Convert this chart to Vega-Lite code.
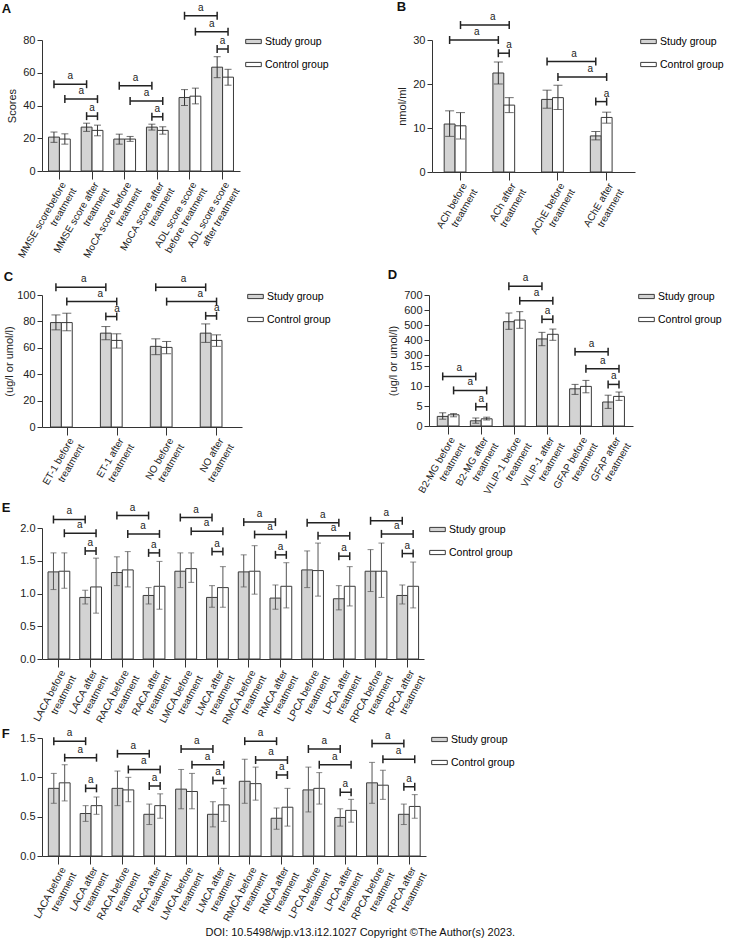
{
  "$schema": "https://vega.github.io/schema/vega-lite/v6.json",
  "padding": {"top": 1, "left": 1, "right": 14, "bottom": 0},
  "background": "white",
  "title": {"text": "DOI: 10.5498/wjp.v13.i12.1027 Copyright ©The Author(s) 2023.", "orient": "bottom", "anchor": "middle", "fontSize": 11, "fontWeight": "normal", "offset": -2, "color": "#111"},
  "config": {
    "font": "Liberation Sans",
    "view": {"stroke": null},
    "axis": {"grid": false, "domainColor": "#333", "tickColor": "#333", "labelColor": "#222", "titleColor": "#222", "labelFontSize": 11, "titleFontSize": 11, "titleFontWeight": "normal"},
    "axisY": {"tickSize": 5, "labelPadding": 2, "titlePadding": 5, "labelOverlap": false, "tickCount": 10},
    "legend": {"orient": "right", "offset": 12, "symbolType": "M-1.3,-0.35H1.3V0.35H-1.3Z", "symbolSize": 144, "symbolStrokeWidth": 1, "labelFontSize": 10.5, "rowPadding": 11, "labelOffset": 5, "padding": -5},
    "title": {"fontSize": 13, "fontWeight": "bold", "anchor": "start", "frame": "bounds", "color": "#111"},
    "concat": {"spacing": 3}
  },
  "datasets": {
    "bA": [
      {"c": "MMSE scorebefore|treatment", "g": "Study group", "v": 20.7, "lo": 17.5, "hi": 23.8},
      {"c": "MMSE scorebefore|treatment", "g": "Control group", "v": 19.5, "lo": 16.4, "hi": 22.7},
      {"c": "MMSE score after|treatment", "g": "Study group", "v": 26.8, "lo": 24.2, "hi": 29.2},
      {"c": "MMSE score after|treatment", "g": "Control group", "v": 24.8, "lo": 21.5, "hi": 28.0},
      {"c": "MoCA score before|treatment", "g": "Study group", "v": 19.5, "lo": 16.4, "hi": 22.5},
      {"c": "MoCA score before|treatment", "g": "Control group", "v": 19.5, "lo": 18.1, "hi": 21.1},
      {"c": "MoCA score after|treatment", "g": "Study group", "v": 26.8, "lo": 25.0, "hi": 28.6},
      {"c": "MoCA score after|treatment", "g": "Control group", "v": 24.8, "lo": 22.5, "hi": 27.0},
      {"c": "ADL score score|before treatment", "g": "Study group", "v": 44.9, "lo": 40.0, "hi": 49.7},
      {"c": "ADL score score|before treatment", "g": "Control group", "v": 45.7, "lo": 41.0, "hi": 50.6},
      {"c": "ADL score score|after treatment", "g": "Study group", "v": 63.4, "lo": 57.0, "hi": 69.8},
      {"c": "ADL score score|after treatment", "g": "Control group", "v": 57.3, "lo": 52.4, "hi": 62.1}
    ],
    "kA": [
      {"k": "S", "n": 1, "e": 1, "c": "MMSE scorebefore|treatment", "g": "Study group", "y": 53.0},
      {"k": "S", "n": 1, "e": 2, "c": "MMSE score after|treatment", "g": "Study group", "y": 53.0},
      {"k": "C", "n": 1, "e": 1, "c": "MMSE scorebefore|treatment", "g": "Control group", "y": 43.9},
      {"k": "C", "n": 1, "e": 2, "c": "MMSE score after|treatment", "g": "Control group", "y": 43.9},
      {"k": "X", "n": 1, "e": 1, "c": "MMSE score after|treatment", "g": "Study group", "y": 33.5},
      {"k": "X", "n": 1, "e": 2, "c": "MMSE score after|treatment", "g": "Control group", "y": 33.5},
      {"k": "S", "n": 2, "e": 1, "c": "MoCA score before|treatment", "g": "Study group", "y": 52.0},
      {"k": "S", "n": 2, "e": 2, "c": "MoCA score after|treatment", "g": "Study group", "y": 52.0},
      {"k": "C", "n": 2, "e": 1, "c": "MoCA score before|treatment", "g": "Control group", "y": 42.8},
      {"k": "C", "n": 2, "e": 2, "c": "MoCA score after|treatment", "g": "Control group", "y": 42.8},
      {"k": "X", "n": 2, "e": 1, "c": "MoCA score after|treatment", "g": "Study group", "y": 33.1},
      {"k": "X", "n": 2, "e": 2, "c": "MoCA score after|treatment", "g": "Control group", "y": 33.1},
      {"k": "S", "n": 3, "e": 1, "c": "ADL score score|before treatment", "g": "Study group", "y": 94.8},
      {"k": "S", "n": 3, "e": 2, "c": "ADL score score|after treatment", "g": "Study group", "y": 94.8},
      {"k": "C", "n": 3, "e": 1, "c": "ADL score score|before treatment", "g": "Control group", "y": 85.1},
      {"k": "C", "n": 3, "e": 2, "c": "ADL score score|after treatment", "g": "Control group", "y": 85.1},
      {"k": "X", "n": 3, "e": 1, "c": "ADL score score|after treatment", "g": "Study group", "y": 74.5},
      {"k": "X", "n": 3, "e": 2, "c": "ADL score score|after treatment", "g": "Control group", "y": 74.5}
    ],
    "bB": [
      {"c": "ACh before|treatment", "g": "Study group", "v": 10.9, "lo": 8.1, "hi": 13.9},
      {"c": "ACh before|treatment", "g": "Control group", "v": 10.5, "lo": 7.5, "hi": 13.5},
      {"c": "ACh after|treatment", "g": "Study group", "v": 22.5, "lo": 20.0, "hi": 25.0},
      {"c": "ACh after|treatment", "g": "Control group", "v": 15.2, "lo": 13.5, "hi": 16.9},
      {"c": "AChE before|treatment", "g": "Study group", "v": 16.5, "lo": 14.5, "hi": 18.6},
      {"c": "AChE before|treatment", "g": "Control group", "v": 16.9, "lo": 14.2, "hi": 19.7},
      {"c": "AChE after|treatment", "g": "Study group", "v": 8.2, "lo": 7.3, "hi": 9.2},
      {"c": "AChE after|treatment", "g": "Control group", "v": 12.4, "lo": 11.1, "hi": 13.6}
    ],
    "kB": [
      {"k": "S", "n": 1, "e": 1, "c": "ACh before|treatment", "g": "Study group", "y": 30.0},
      {"k": "S", "n": 1, "e": 2, "c": "ACh after|treatment", "g": "Study group", "y": 30.0},
      {"k": "C", "n": 1, "e": 1, "c": "ACh before|treatment", "g": "Control group", "y": 33.4},
      {"k": "C", "n": 1, "e": 2, "c": "ACh after|treatment", "g": "Control group", "y": 33.4},
      {"k": "X", "n": 1, "e": 1, "c": "ACh after|treatment", "g": "Study group", "y": 27.0},
      {"k": "X", "n": 1, "e": 2, "c": "ACh after|treatment", "g": "Control group", "y": 27.0},
      {"k": "S", "n": 2, "e": 1, "c": "AChE before|treatment", "g": "Study group", "y": 25.1},
      {"k": "S", "n": 2, "e": 2, "c": "AChE after|treatment", "g": "Study group", "y": 25.1},
      {"k": "C", "n": 2, "e": 1, "c": "AChE before|treatment", "g": "Control group", "y": 21.6},
      {"k": "C", "n": 2, "e": 2, "c": "AChE after|treatment", "g": "Control group", "y": 21.6},
      {"k": "X", "n": 2, "e": 1, "c": "AChE after|treatment", "g": "Study group", "y": 16.0},
      {"k": "X", "n": 2, "e": 2, "c": "AChE after|treatment", "g": "Control group", "y": 16.0}
    ],
    "bC": [
      {"c": "ET-1 before|treatment", "g": "Study group", "v": 79.1, "lo": 73.6, "hi": 84.9},
      {"c": "ET-1 before|treatment", "g": "Control group", "v": 79.1, "lo": 72.9, "hi": 86.2},
      {"c": "ET-1 after|treatment", "g": "Study group", "v": 71.1, "lo": 66.1, "hi": 76.1},
      {"c": "ET-1 after|treatment", "g": "Control group", "v": 65.6, "lo": 59.8, "hi": 70.6},
      {"c": "NO before|treatment", "g": "Study group", "v": 61.1, "lo": 54.8, "hi": 66.8},
      {"c": "NO before|treatment", "g": "Control group", "v": 60.3, "lo": 55.5, "hi": 64.8},
      {"c": "NO after|treatment", "g": "Study group", "v": 71.1, "lo": 64.1, "hi": 78.1},
      {"c": "NO after|treatment", "g": "Control group", "v": 65.6, "lo": 61.1, "hi": 69.8}
    ],
    "kC": [
      {"k": "S", "n": 1, "e": 1, "c": "ET-1 before|treatment", "g": "Study group", "y": 105.8},
      {"k": "S", "n": 1, "e": 2, "c": "ET-1 after|treatment", "g": "Study group", "y": 105.8},
      {"k": "C", "n": 1, "e": 1, "c": "ET-1 before|treatment", "g": "Control group", "y": 95.0},
      {"k": "C", "n": 1, "e": 2, "c": "ET-1 after|treatment", "g": "Control group", "y": 95.0},
      {"k": "X", "n": 1, "e": 1, "c": "ET-1 after|treatment", "g": "Study group", "y": 83.7},
      {"k": "X", "n": 1, "e": 2, "c": "ET-1 after|treatment", "g": "Control group", "y": 83.7},
      {"k": "S", "n": 2, "e": 1, "c": "NO before|treatment", "g": "Study group", "y": 105.8},
      {"k": "S", "n": 2, "e": 2, "c": "NO after|treatment", "g": "Study group", "y": 105.8},
      {"k": "C", "n": 2, "e": 1, "c": "NO before|treatment", "g": "Control group", "y": 95.0},
      {"k": "C", "n": 2, "e": 2, "c": "NO after|treatment", "g": "Control group", "y": 95.0},
      {"k": "X", "n": 2, "e": 1, "c": "NO after|treatment", "g": "Study group", "y": 84.2},
      {"k": "X", "n": 2, "e": 2, "c": "NO after|treatment", "g": "Control group", "y": 84.2}
    ],
    "bD": [
      {"c": "B2-MG before|treatment", "g": "Study group", "v": 2.4, "lo": 1.7, "hi": 3.3},
      {"c": "B2-MG before|treatment", "g": "Control group", "v": 2.8, "lo": 2.3, "hi": 3.1},
      {"c": "B2-MG after|treatment", "g": "Study group", "v": 1.3, "lo": 0.7, "hi": 2.0},
      {"c": "B2-MG after|treatment", "g": "Control group", "v": 1.8, "lo": 1.5, "hi": 2.2},
      {"c": "VILIP-1 before|treatment", "g": "Study group", "v": 522, "lo": 471, "hi": 580},
      {"c": "VILIP-1 before|treatment", "g": "Control group", "v": 533, "lo": 478, "hi": 589},
      {"c": "VILIP-1 after|treatment", "g": "Study group", "v": 407, "lo": 362, "hi": 451},
      {"c": "VILIP-1 after|treatment", "g": "Control group", "v": 438, "lo": 398, "hi": 473},
      {"c": "GFAP before|treatment", "g": "Study group", "v": 9.3, "lo": 7.9, "hi": 10.4},
      {"c": "GFAP before|treatment", "g": "Control group", "v": 9.9, "lo": 8.3, "hi": 11.4},
      {"c": "GFAP after|treatment", "g": "Study group", "v": 6.0, "lo": 4.4, "hi": 7.7},
      {"c": "GFAP after|treatment", "g": "Control group", "v": 7.4, "lo": 6.4, "hi": 8.5}
    ],
    "kD": [
      {"k": "S", "n": 1, "e": 1, "c": "B2-MG before|treatment", "g": "Study group", "y": 12.4},
      {"k": "S", "n": 1, "e": 2, "c": "B2-MG after|treatment", "g": "Study group", "y": 12.4},
      {"k": "C", "n": 1, "e": 1, "c": "B2-MG before|treatment", "g": "Control group", "y": 8.9},
      {"k": "C", "n": 1, "e": 2, "c": "B2-MG after|treatment", "g": "Control group", "y": 8.9},
      {"k": "X", "n": 1, "e": 1, "c": "B2-MG after|treatment", "g": "Study group", "y": 4.8},
      {"k": "X", "n": 1, "e": 2, "c": "B2-MG after|treatment", "g": "Control group", "y": 4.8},
      {"k": "S", "n": 2, "e": 1, "c": "VILIP-1 before|treatment", "g": "Study group", "y": 758},
      {"k": "S", "n": 2, "e": 2, "c": "VILIP-1 after|treatment", "g": "Study group", "y": 758},
      {"k": "C", "n": 2, "e": 1, "c": "VILIP-1 before|treatment", "g": "Control group", "y": 662},
      {"k": "C", "n": 2, "e": 2, "c": "VILIP-1 after|treatment", "g": "Control group", "y": 662},
      {"k": "X", "n": 2, "e": 1, "c": "VILIP-1 after|treatment", "g": "Study group", "y": 538},
      {"k": "X", "n": 2, "e": 2, "c": "VILIP-1 after|treatment", "g": "Control group", "y": 538},
      {"k": "S", "n": 3, "e": 1, "c": "GFAP before|treatment", "g": "Study group", "y": 322},
      {"k": "S", "n": 3, "e": 2, "c": "GFAP after|treatment", "g": "Study group", "y": 322},
      {"k": "C", "n": 3, "e": 1, "c": "GFAP before|treatment", "g": "Control group", "y": 14.3},
      {"k": "C", "n": 3, "e": 2, "c": "GFAP after|treatment", "g": "Control group", "y": 14.3},
      {"k": "X", "n": 3, "e": 1, "c": "GFAP after|treatment", "g": "Study group", "y": 10.4},
      {"k": "X", "n": 3, "e": 2, "c": "GFAP after|treatment", "g": "Control group", "y": 10.4}
    ],
    "bE": [
      {"c": "LACA before|treatment", "g": "Study group", "v": 1.33, "lo": 1.06, "hi": 1.62},
      {"c": "LACA before|treatment", "g": "Control group", "v": 1.34, "lo": 1.08, "hi": 1.62},
      {"c": "LACA after|treatment", "g": "Study group", "v": 0.94, "lo": 0.84, "hi": 1.05},
      {"c": "LACA after|treatment", "g": "Control group", "v": 1.10, "lo": 0.70, "hi": 1.54},
      {"c": "RACA before|treatment", "g": "Study group", "v": 1.32, "lo": 1.12, "hi": 1.56},
      {"c": "RACA before|treatment", "g": "Control group", "v": 1.36, "lo": 1.10, "hi": 1.64},
      {"c": "RACA after|treatment", "g": "Study group", "v": 0.97, "lo": 0.84, "hi": 1.09},
      {"c": "RACA after|treatment", "g": "Control group", "v": 1.11, "lo": 0.76, "hi": 1.49},
      {"c": "LMCA before|treatment", "g": "Study group", "v": 1.34, "lo": 1.09, "hi": 1.62},
      {"c": "LMCA before|treatment", "g": "Control group", "v": 1.38, "lo": 1.17, "hi": 1.62},
      {"c": "LMCA after|treatment", "g": "Study group", "v": 0.94, "lo": 0.79, "hi": 1.12},
      {"c": "LMCA after|treatment", "g": "Control group", "v": 1.09, "lo": 0.79, "hi": 1.41},
      {"c": "RMCA before|treatment", "g": "Study group", "v": 1.33, "lo": 1.10, "hi": 1.59},
      {"c": "RMCA before|treatment", "g": "Control group", "v": 1.34, "lo": 0.99, "hi": 1.73},
      {"c": "RMCA after|treatment", "g": "Study group", "v": 0.93, "lo": 0.76, "hi": 1.13},
      {"c": "RMCA after|treatment", "g": "Control group", "v": 1.11, "lo": 0.78, "hi": 1.47},
      {"c": "LPCA before|treatment", "g": "Study group", "v": 1.36, "lo": 1.09, "hi": 1.65},
      {"c": "LPCA before|treatment", "g": "Control group", "v": 1.35, "lo": 0.96, "hi": 1.77},
      {"c": "LPCA after|treatment", "g": "Study group", "v": 0.92, "lo": 0.75, "hi": 1.12},
      {"c": "LPCA after|treatment", "g": "Control group", "v": 1.11, "lo": 0.81, "hi": 1.41},
      {"c": "RPCA before|treatment", "g": "Study group", "v": 1.34, "lo": 1.03, "hi": 1.67},
      {"c": "RPCA before|treatment", "g": "Control group", "v": 1.34, "lo": 0.94, "hi": 1.77},
      {"c": "RPCA after|treatment", "g": "Study group", "v": 0.97, "lo": 0.84, "hi": 1.13},
      {"c": "RPCA after|treatment", "g": "Control group", "v": 1.11, "lo": 0.78, "hi": 1.48}
    ],
    "kE": [
      {"k": "S", "n": 1, "e": 1, "c": "LACA before|treatment", "g": "Study group", "y": 2.13},
      {"k": "S", "n": 1, "e": 2, "c": "LACA after|treatment", "g": "Study group", "y": 2.13},
      {"k": "C", "n": 1, "e": 1, "c": "LACA before|treatment", "g": "Control group", "y": 1.92},
      {"k": "C", "n": 1, "e": 2, "c": "LACA after|treatment", "g": "Control group", "y": 1.92},
      {"k": "X", "n": 1, "e": 1, "c": "LACA after|treatment", "g": "Study group", "y": 1.65},
      {"k": "X", "n": 1, "e": 2, "c": "LACA after|treatment", "g": "Control group", "y": 1.65},
      {"k": "S", "n": 2, "e": 1, "c": "RACA before|treatment", "g": "Study group", "y": 2.19},
      {"k": "S", "n": 2, "e": 2, "c": "RACA after|treatment", "g": "Study group", "y": 2.19},
      {"k": "C", "n": 2, "e": 1, "c": "RACA before|treatment", "g": "Control group", "y": 1.91},
      {"k": "C", "n": 2, "e": 2, "c": "RACA after|treatment", "g": "Control group", "y": 1.91},
      {"k": "X", "n": 2, "e": 1, "c": "RACA after|treatment", "g": "Study group", "y": 1.62},
      {"k": "X", "n": 2, "e": 2, "c": "RACA after|treatment", "g": "Control group", "y": 1.62},
      {"k": "S", "n": 3, "e": 1, "c": "LMCA before|treatment", "g": "Study group", "y": 2.16},
      {"k": "S", "n": 3, "e": 2, "c": "LMCA after|treatment", "g": "Study group", "y": 2.16},
      {"k": "C", "n": 3, "e": 1, "c": "LMCA before|treatment", "g": "Control group", "y": 1.95},
      {"k": "C", "n": 3, "e": 2, "c": "LMCA after|treatment", "g": "Control group", "y": 1.95},
      {"k": "X", "n": 3, "e": 1, "c": "LMCA after|treatment", "g": "Study group", "y": 1.64},
      {"k": "X", "n": 3, "e": 2, "c": "LMCA after|treatment", "g": "Control group", "y": 1.64},
      {"k": "S", "n": 4, "e": 1, "c": "RMCA before|treatment", "g": "Study group", "y": 2.09},
      {"k": "S", "n": 4, "e": 2, "c": "RMCA after|treatment", "g": "Study group", "y": 2.09},
      {"k": "C", "n": 4, "e": 1, "c": "RMCA before|treatment", "g": "Control group", "y": 1.90},
      {"k": "C", "n": 4, "e": 2, "c": "RMCA after|treatment", "g": "Control group", "y": 1.90},
      {"k": "X", "n": 4, "e": 1, "c": "RMCA after|treatment", "g": "Study group", "y": 1.59},
      {"k": "X", "n": 4, "e": 2, "c": "RMCA after|treatment", "g": "Control group", "y": 1.59},
      {"k": "S", "n": 5, "e": 1, "c": "LPCA before|treatment", "g": "Study group", "y": 2.08},
      {"k": "S", "n": 5, "e": 2, "c": "LPCA after|treatment", "g": "Study group", "y": 2.08},
      {"k": "C", "n": 5, "e": 1, "c": "LPCA before|treatment", "g": "Control group", "y": 1.88},
      {"k": "C", "n": 5, "e": 2, "c": "LPCA after|treatment", "g": "Control group", "y": 1.88},
      {"k": "X", "n": 5, "e": 1, "c": "LPCA after|treatment", "g": "Study group", "y": 1.57},
      {"k": "X", "n": 5, "e": 2, "c": "LPCA after|treatment", "g": "Control group", "y": 1.57},
      {"k": "S", "n": 6, "e": 1, "c": "RPCA before|treatment", "g": "Study group", "y": 2.11},
      {"k": "S", "n": 6, "e": 2, "c": "RPCA after|treatment", "g": "Study group", "y": 2.11},
      {"k": "C", "n": 6, "e": 1, "c": "RPCA before|treatment", "g": "Control group", "y": 1.91},
      {"k": "C", "n": 6, "e": 2, "c": "RPCA after|treatment", "g": "Control group", "y": 1.91},
      {"k": "X", "n": 6, "e": 1, "c": "RPCA after|treatment", "g": "Study group", "y": 1.61},
      {"k": "X", "n": 6, "e": 2, "c": "RPCA after|treatment", "g": "Control group", "y": 1.61}
    ],
    "bF": [
      {"c": "LACA before|treatment", "g": "Study group", "v": 0.86, "lo": 0.67, "hi": 1.05},
      {"c": "LACA before|treatment", "g": "Control group", "v": 0.93, "lo": 0.70, "hi": 1.16},
      {"c": "LACA after|treatment", "g": "Study group", "v": 0.54, "lo": 0.44, "hi": 0.64},
      {"c": "LACA after|treatment", "g": "Control group", "v": 0.64, "lo": 0.53, "hi": 0.75},
      {"c": "RACA before|treatment", "g": "Study group", "v": 0.86, "lo": 0.64, "hi": 1.08},
      {"c": "RACA before|treatment", "g": "Control group", "v": 0.84, "lo": 0.69, "hi": 1.00},
      {"c": "RACA after|treatment", "g": "Study group", "v": 0.53, "lo": 0.40, "hi": 0.66},
      {"c": "RACA after|treatment", "g": "Control group", "v": 0.64, "lo": 0.48, "hi": 0.79},
      {"c": "LMCA before|treatment", "g": "Study group", "v": 0.85, "lo": 0.60, "hi": 1.10},
      {"c": "LMCA before|treatment", "g": "Control group", "v": 0.82, "lo": 0.60, "hi": 1.05},
      {"c": "LMCA after|treatment", "g": "Study group", "v": 0.53, "lo": 0.37, "hi": 0.69},
      {"c": "LMCA after|treatment", "g": "Control group", "v": 0.65, "lo": 0.44, "hi": 0.86},
      {"c": "RMCA before|treatment", "g": "Study group", "v": 0.95, "lo": 0.67, "hi": 1.23},
      {"c": "RMCA before|treatment", "g": "Control group", "v": 0.92, "lo": 0.71, "hi": 1.13},
      {"c": "RMCA after|treatment", "g": "Study group", "v": 0.48, "lo": 0.34, "hi": 0.61},
      {"c": "RMCA after|treatment", "g": "Control group", "v": 0.62, "lo": 0.38, "hi": 0.86},
      {"c": "LPCA before|treatment", "g": "Study group", "v": 0.84, "lo": 0.56, "hi": 1.13},
      {"c": "LPCA before|treatment", "g": "Control group", "v": 0.86, "lo": 0.66, "hi": 1.06},
      {"c": "LPCA after|treatment", "g": "Study group", "v": 0.49, "lo": 0.38, "hi": 0.60},
      {"c": "LPCA after|treatment", "g": "Control group", "v": 0.58, "lo": 0.43, "hi": 0.72},
      {"c": "RPCA before|treatment", "g": "Study group", "v": 0.93, "lo": 0.67, "hi": 1.19},
      {"c": "RPCA before|treatment", "g": "Control group", "v": 0.90, "lo": 0.72, "hi": 1.09},
      {"c": "RPCA after|treatment", "g": "Study group", "v": 0.53, "lo": 0.40, "hi": 0.66},
      {"c": "RPCA after|treatment", "g": "Control group", "v": 0.63, "lo": 0.48, "hi": 0.78}
    ],
    "kF": [
      {"k": "S", "n": 1, "e": 1, "c": "LACA before|treatment", "g": "Study group", "y": 1.46},
      {"k": "S", "n": 1, "e": 2, "c": "LACA after|treatment", "g": "Study group", "y": 1.46},
      {"k": "C", "n": 1, "e": 1, "c": "LACA before|treatment", "g": "Control group", "y": 1.25},
      {"k": "C", "n": 1, "e": 2, "c": "LACA after|treatment", "g": "Control group", "y": 1.25},
      {"k": "X", "n": 1, "e": 1, "c": "LACA after|treatment", "g": "Study group", "y": 0.86},
      {"k": "X", "n": 1, "e": 2, "c": "LACA after|treatment", "g": "Control group", "y": 0.86},
      {"k": "S", "n": 2, "e": 1, "c": "RACA before|treatment", "g": "Study group", "y": 1.30},
      {"k": "S", "n": 2, "e": 2, "c": "RACA after|treatment", "g": "Study group", "y": 1.30},
      {"k": "C", "n": 2, "e": 1, "c": "RACA before|treatment", "g": "Control group", "y": 1.10},
      {"k": "C", "n": 2, "e": 2, "c": "RACA after|treatment", "g": "Control group", "y": 1.10},
      {"k": "X", "n": 2, "e": 1, "c": "RACA after|treatment", "g": "Study group", "y": 0.89},
      {"k": "X", "n": 2, "e": 2, "c": "RACA after|treatment", "g": "Control group", "y": 0.89},
      {"k": "S", "n": 3, "e": 1, "c": "LMCA before|treatment", "g": "Study group", "y": 1.36},
      {"k": "S", "n": 3, "e": 2, "c": "LMCA after|treatment", "g": "Study group", "y": 1.36},
      {"k": "C", "n": 3, "e": 1, "c": "LMCA before|treatment", "g": "Control group", "y": 1.16},
      {"k": "C", "n": 3, "e": 2, "c": "LMCA after|treatment", "g": "Control group", "y": 1.16},
      {"k": "X", "n": 3, "e": 1, "c": "LMCA after|treatment", "g": "Study group", "y": 0.96},
      {"k": "X", "n": 3, "e": 2, "c": "LMCA after|treatment", "g": "Control group", "y": 0.96},
      {"k": "S", "n": 4, "e": 1, "c": "RMCA before|treatment", "g": "Study group", "y": 1.46},
      {"k": "S", "n": 4, "e": 2, "c": "RMCA after|treatment", "g": "Study group", "y": 1.46},
      {"k": "C", "n": 4, "e": 1, "c": "RMCA before|treatment", "g": "Control group", "y": 1.22},
      {"k": "C", "n": 4, "e": 2, "c": "RMCA after|treatment", "g": "Control group", "y": 1.22},
      {"k": "X", "n": 4, "e": 1, "c": "RMCA after|treatment", "g": "Study group", "y": 1.03},
      {"k": "X", "n": 4, "e": 2, "c": "RMCA after|treatment", "g": "Control group", "y": 1.03},
      {"k": "S", "n": 5, "e": 1, "c": "LPCA before|treatment", "g": "Study group", "y": 1.36},
      {"k": "S", "n": 5, "e": 2, "c": "LPCA after|treatment", "g": "Study group", "y": 1.36},
      {"k": "C", "n": 5, "e": 1, "c": "LPCA before|treatment", "g": "Control group", "y": 1.16},
      {"k": "C", "n": 5, "e": 2, "c": "LPCA after|treatment", "g": "Control group", "y": 1.16},
      {"k": "X", "n": 5, "e": 1, "c": "LPCA after|treatment", "g": "Study group", "y": 0.81},
      {"k": "X", "n": 5, "e": 2, "c": "LPCA after|treatment", "g": "Control group", "y": 0.81},
      {"k": "S", "n": 6, "e": 1, "c": "RPCA before|treatment", "g": "Study group", "y": 1.43},
      {"k": "S", "n": 6, "e": 2, "c": "RPCA after|treatment", "g": "Study group", "y": 1.43},
      {"k": "C", "n": 6, "e": 1, "c": "RPCA before|treatment", "g": "Control group", "y": 1.23},
      {"k": "C", "n": 6, "e": 2, "c": "RPCA after|treatment", "g": "Control group", "y": 1.23},
      {"k": "X", "n": 6, "e": 1, "c": "RPCA after|treatment", "g": "Study group", "y": 0.88},
      {"k": "X", "n": 6, "e": 2, "c": "RPCA after|treatment", "g": "Control group", "y": 0.88}
    ]
  },
  "resolve": {"scale": {"fill": "independent"}, "legend": {"fill": "independent"}},
  "spacing": 3,
  "vconcat": [
    {
      "resolve": {"scale": {"fill": "independent"}, "legend": {"fill": "independent"}},
      "spacing": 72,
      "hconcat": [
        {
          "title": {"text": "A", "offset": -13, "dx": -5},
          "width": 198, "height": 131,
          "layer": [
            {"data": {"name": "bA"}, "mark": {"type": "bar", "stroke": "#3a3a3a", "strokeWidth": 1},
             "encoding": {
               "x": {"field": "c", "type": "nominal", "title": null, "scale": {"domain": ["MMSE scorebefore|treatment", "MMSE score after|treatment", "MoCA score before|treatment", "MoCA score after|treatment", "ADL score score|before treatment", "ADL score score|after treatment"], "paddingInner": 0.33333, "paddingOuter": 0.2},
                     "axis": {"labelExpr": "split(datum.label,'|')", "labelAngle": -60, "labelAlign": "right", "labelBaseline": "top", "labelPadding": 1, "tickSize": 8, "labelFontSize": 10, "labelLineHeight": 12, "labelOverlap": false, "labelLimit": 0, "labelBound": false}},
               "xOffset": {"field": "g", "type": "nominal", "scale": {"domain": ["Study group", "Control group"]}},
               "y": {"field": "v", "type": "quantitative", "scale": {"domain": [0, 80], "nice": false}, "axis": {"title": "Scores", "values": [0, 20, 40, 60, 80], "labelOverlap": false, "tickCount": 10}},
               "fill": {"field": "g", "type": "nominal", "scale": {"domain": ["Study group", "Control group"], "range": ["#d3d3d3", "#ffffff"]}, "legend": {"title": null}}
             }},
            {"data": {"name": "bA"}, "mark": {"type": "rule", "color": "#333", "strokeWidth": 1},
             "encoding": {"x": {"field": "c", "type": "nominal", "title": null}, "xOffset": {"field": "g", "type": "nominal"}, "y": {"field": "lo", "type": "quantitative"}, "y2": {"field": "hi"}}},
            {"data": {"name": "bA"}, "mark": {"type": "tick", "color": "#333", "size": 7, "thickness": 1},
             "encoding": {"x": {"field": "c", "type": "nominal", "title": null}, "xOffset": {"field": "g", "type": "nominal"}, "y": {"field": "lo", "type": "quantitative"}}},
            {"data": {"name": "bA"}, "mark": {"type": "tick", "color": "#333", "size": 7, "thickness": 1},
             "encoding": {"x": {"field": "c", "type": "nominal", "title": null}, "xOffset": {"field": "g", "type": "nominal"}, "y": {"field": "hi", "type": "quantitative"}}},
            {"data": {"name": "kA"}, "mark": {"type": "line", "color": "#222", "strokeWidth": 1.5, "strokeCap": "butt"},
             "encoding": {"x": {"field": "c", "type": "nominal", "title": null}, "xOffset": {"field": "g", "type": "nominal"}, "y": {"field": "y", "type": "quantitative"}, "detail": [{"field": "k"}, {"field": "n"}]}},
            {"data": {"name": "kA"}, "mark": {"type": "rule", "color": "#222", "strokeWidth": 1.5, "yOffset": -4, "y2Offset": 4},
             "encoding": {"x": {"field": "c", "type": "nominal", "title": null}, "xOffset": {"field": "g", "type": "nominal"}, "y": {"field": "y", "type": "quantitative"}, "y2": {"field": "y"}}},
            {"data": {"name": "kA"}, "transform": [{"filter": "datum.e == 1 && datum.k == 'S'"}], "mark": {"type": "text", "text": "a", "fontSize": 10, "baseline": "bottom", "dy": -3, "color": "#222"},
             "encoding": {"x": {"field": "c", "type": "nominal", "title": null, "bandPosition": 1}, "y": {"field": "y", "type": "quantitative"}}},
            {"data": {"name": "kA"}, "transform": [{"filter": "datum.e == 1 && datum.k == 'C'"}], "mark": {"type": "text", "text": "a", "fontSize": 10, "baseline": "bottom", "dy": -3, "color": "#222"},
             "encoding": {"x": {"field": "c", "type": "nominal", "title": null, "bandPosition": 1.5}, "y": {"field": "y", "type": "quantitative"}}},
            {"data": {"name": "kA"}, "transform": [{"filter": "datum.e == 1 && datum.k == 'X'"}], "mark": {"type": "text", "text": "a", "fontSize": 10, "baseline": "bottom", "dy": -3, "color": "#222"},
             "encoding": {"x": {"field": "c", "type": "nominal", "title": null, "bandPosition": 0.5}, "y": {"field": "y", "type": "quantitative"}}}
          ]
        },
        {
          "title": {"text": "B", "offset": -2},
          "width": 203, "height": 132,
          "layer": [
            {"data": {"name": "bB"}, "mark": {"type": "bar", "stroke": "#3a3a3a", "strokeWidth": 1},
             "encoding": {
               "x": {"field": "c", "type": "nominal", "title": null, "scale": {"domain": ["ACh before|treatment", "ACh after|treatment", "AChE before|treatment", "AChE after|treatment"], "paddingInner": 0.33333, "paddingOuter": 0.25},
                     "axis": {"labelExpr": "split(datum.label,'|')", "labelAngle": -60, "labelAlign": "right", "labelBaseline": "top", "labelPadding": 1, "tickSize": 8, "labelFontSize": 10, "labelLineHeight": 12, "labelOverlap": false, "labelLimit": 0, "labelBound": false}},
               "xOffset": {"field": "g", "type": "nominal", "scale": {"domain": ["Study group", "Control group"]}},
               "y": {"field": "v", "type": "quantitative", "scale": {"domain": [0, 30], "nice": false}, "axis": {"title": "nmol/ml", "values": [0, 10, 20, 30], "labelOverlap": false, "tickCount": 10}},
               "fill": {"field": "g", "type": "nominal", "scale": {"domain": ["Study group", "Control group"], "range": ["#d3d3d3", "#ffffff"]}, "legend": {"title": null}}
             }},
            {"data": {"name": "bB"}, "mark": {"type": "rule", "color": "#333", "strokeWidth": 1},
             "encoding": {"x": {"field": "c", "type": "nominal", "title": null}, "xOffset": {"field": "g", "type": "nominal"}, "y": {"field": "lo", "type": "quantitative"}, "y2": {"field": "hi"}}},
            {"data": {"name": "bB"}, "mark": {"type": "tick", "color": "#333", "size": 9, "thickness": 1},
             "encoding": {"x": {"field": "c", "type": "nominal", "title": null}, "xOffset": {"field": "g", "type": "nominal"}, "y": {"field": "lo", "type": "quantitative"}}},
            {"data": {"name": "bB"}, "mark": {"type": "tick", "color": "#333", "size": 9, "thickness": 1},
             "encoding": {"x": {"field": "c", "type": "nominal", "title": null}, "xOffset": {"field": "g", "type": "nominal"}, "y": {"field": "hi", "type": "quantitative"}}},
            {"data": {"name": "kB"}, "mark": {"type": "line", "color": "#222", "strokeWidth": 1.5, "strokeCap": "butt"},
             "encoding": {"x": {"field": "c", "type": "nominal", "title": null}, "xOffset": {"field": "g", "type": "nominal"}, "y": {"field": "y", "type": "quantitative"}, "detail": [{"field": "k"}, {"field": "n"}]}},
            {"data": {"name": "kB"}, "mark": {"type": "rule", "color": "#222", "strokeWidth": 1.5, "yOffset": -4, "y2Offset": 4},
             "encoding": {"x": {"field": "c", "type": "nominal", "title": null}, "xOffset": {"field": "g", "type": "nominal"}, "y": {"field": "y", "type": "quantitative"}, "y2": {"field": "y"}}},
            {"data": {"name": "kB"}, "transform": [{"filter": "datum.e == 1 && datum.k == 'S'"}], "mark": {"type": "text", "text": "a", "fontSize": 10, "baseline": "bottom", "dy": -3, "color": "#222"},
             "encoding": {"x": {"field": "c", "type": "nominal", "title": null, "bandPosition": 1}, "y": {"field": "y", "type": "quantitative"}}},
            {"data": {"name": "kB"}, "transform": [{"filter": "datum.e == 1 && datum.k == 'C'"}], "mark": {"type": "text", "text": "a", "fontSize": 10, "baseline": "bottom", "dy": -3, "color": "#222"},
             "encoding": {"x": {"field": "c", "type": "nominal", "title": null, "bandPosition": 1.5}, "y": {"field": "y", "type": "quantitative"}}},
            {"data": {"name": "kB"}, "transform": [{"filter": "datum.e == 1 && datum.k == 'X'"}], "mark": {"type": "text", "text": "a", "fontSize": 10, "baseline": "bottom", "dy": -3, "color": "#222"},
             "encoding": {"x": {"field": "c", "type": "nominal", "title": null, "bandPosition": 0.5}, "y": {"field": "y", "type": "quantitative"}}}
          ]
        }
      ]
    },
    {
      "resolve": {"scale": {"fill": "independent"}, "legend": {"fill": "independent"}},
      "spacing": -1,
      "vconcat": [
        {
          "resolve": {"scale": {"fill": "independent"}, "legend": {"fill": "independent"}},
          "spacing": 61,
          "hconcat": [
            {
              "title": {"text": "C", "offset": -10},
              "width": 200, "height": 132,
              "layer": [
                {"data": {"name": "bC"}, "mark": {"type": "bar", "stroke": "#3a3a3a", "strokeWidth": 1},
                 "encoding": {
                   "x": {"field": "c", "type": "nominal", "title": null, "scale": {"domain": ["ET-1 before|treatment", "ET-1 after|treatment", "NO before|treatment", "NO after|treatment"], "paddingInner": 0.33333, "paddingOuter": 0.17},
                         "axis": {"labelExpr": "split(datum.label,'|')", "labelAngle": -60, "labelAlign": "right", "labelBaseline": "top", "labelPadding": 1, "tickSize": 8, "labelFontSize": 10, "labelLineHeight": 12, "labelOverlap": false, "labelLimit": 0, "labelBound": false}},
                   "xOffset": {"field": "g", "type": "nominal", "scale": {"domain": ["Study group", "Control group"]}},
                   "y": {"field": "v", "type": "quantitative", "scale": {"domain": [0, 100], "nice": false}, "axis": {"title": "(ug/l or umol/l)", "titlePadding": 2, "values": [0, 20, 40, 60, 80, 100], "labelOverlap": false, "tickCount": 10}},
                   "fill": {"field": "g", "type": "nominal", "scale": {"domain": ["Study group", "Control group"], "range": ["#d3d3d3", "#ffffff"]}, "legend": {"title": null}}
                 }},
                {"data": {"name": "bC"}, "mark": {"type": "rule", "color": "#333", "strokeWidth": 1},
                 "encoding": {"x": {"field": "c", "type": "nominal", "title": null}, "xOffset": {"field": "g", "type": "nominal"}, "y": {"field": "lo", "type": "quantitative"}, "y2": {"field": "hi"}}},
                {"data": {"name": "bC"}, "mark": {"type": "tick", "color": "#333", "size": 9, "thickness": 1},
                 "encoding": {"x": {"field": "c", "type": "nominal", "title": null}, "xOffset": {"field": "g", "type": "nominal"}, "y": {"field": "lo", "type": "quantitative"}}},
                {"data": {"name": "bC"}, "mark": {"type": "tick", "color": "#333", "size": 9, "thickness": 1},
                 "encoding": {"x": {"field": "c", "type": "nominal", "title": null}, "xOffset": {"field": "g", "type": "nominal"}, "y": {"field": "hi", "type": "quantitative"}}},
                {"data": {"name": "kC"}, "mark": {"type": "line", "color": "#222", "strokeWidth": 1.5, "strokeCap": "butt"},
                 "encoding": {"x": {"field": "c", "type": "nominal", "title": null}, "xOffset": {"field": "g", "type": "nominal"}, "y": {"field": "y", "type": "quantitative"}, "detail": [{"field": "k"}, {"field": "n"}]}},
                {"data": {"name": "kC"}, "mark": {"type": "rule", "color": "#222", "strokeWidth": 1.5, "yOffset": -4, "y2Offset": 4},
                 "encoding": {"x": {"field": "c", "type": "nominal", "title": null}, "xOffset": {"field": "g", "type": "nominal"}, "y": {"field": "y", "type": "quantitative"}, "y2": {"field": "y"}}},
                {"data": {"name": "kC"}, "transform": [{"filter": "datum.e == 1 && datum.k == 'S'"}], "mark": {"type": "text", "text": "a", "fontSize": 10, "baseline": "bottom", "dy": -3, "color": "#222"},
                 "encoding": {"x": {"field": "c", "type": "nominal", "title": null, "bandPosition": 1}, "y": {"field": "y", "type": "quantitative"}}},
                {"data": {"name": "kC"}, "transform": [{"filter": "datum.e == 1 && datum.k == 'C'"}], "mark": {"type": "text", "text": "a", "fontSize": 10, "baseline": "bottom", "dy": -3, "color": "#222"},
                 "encoding": {"x": {"field": "c", "type": "nominal", "title": null, "bandPosition": 1.5}, "y": {"field": "y", "type": "quantitative"}}},
                {"data": {"name": "kC"}, "transform": [{"filter": "datum.e == 1 && datum.k == 'X'"}], "mark": {"type": "text", "text": "a", "fontSize": 10, "baseline": "bottom", "dy": -3, "color": "#222"},
                 "encoding": {"x": {"field": "c", "type": "nominal", "title": null, "bandPosition": 0.5}, "y": {"field": "y", "type": "quantitative"}}}
              ]
            },
            {
              "title": {"text": "D", "offset": -9},
              "width": 204, "height": 131,
              "layer": [
                {"data": {"name": "bD"}, "mark": {"type": "bar", "stroke": "#3a3a3a", "strokeWidth": 1},
                 "encoding": {
                   "x": {"field": "c", "type": "nominal", "title": null, "scale": {"domain": ["B2-MG before|treatment", "B2-MG after|treatment", "VILIP-1 before|treatment", "VILIP-1 after|treatment", "GFAP before|treatment", "GFAP after|treatment"], "paddingInner": 0.33333, "paddingOuter": 0.25},
                         "axis": {"labelExpr": "split(datum.label,'|')", "labelAngle": -60, "labelAlign": "right", "labelBaseline": "top", "labelPadding": 1, "tickSize": 8, "labelFontSize": 10, "labelLineHeight": 12, "labelOverlap": false, "labelLimit": 0, "labelBound": false}},
                   "xOffset": {"field": "g", "type": "nominal", "scale": {"domain": ["Study group", "Control group"]}},
                   "y": {"field": "v", "type": "quantitative", "scale": {"domain": [0, 15, 300, 700], "range": [131, 71, 60, 0], "nice": false, "zero": false}, "axis": {"title": "(ug/l or umol/l)", "values": [0, 5, 10, 15, 300, 400, 500, 600, 700], "labelOverlap": false, "tickCount": 10}},
                   "fill": {"field": "g", "type": "nominal", "scale": {"domain": ["Study group", "Control group"], "range": ["#d3d3d3", "#ffffff"]}, "legend": {"title": null}}
                 }},
                {"data": {"name": "bD"}, "mark": {"type": "rule", "color": "#333", "strokeWidth": 1},
                 "encoding": {"x": {"field": "c", "type": "nominal", "title": null}, "xOffset": {"field": "g", "type": "nominal"}, "y": {"field": "lo", "type": "quantitative"}, "y2": {"field": "hi"}}},
                {"data": {"name": "bD"}, "mark": {"type": "tick", "color": "#333", "size": 7, "thickness": 1},
                 "encoding": {"x": {"field": "c", "type": "nominal", "title": null}, "xOffset": {"field": "g", "type": "nominal"}, "y": {"field": "lo", "type": "quantitative"}}},
                {"data": {"name": "bD"}, "mark": {"type": "tick", "color": "#333", "size": 7, "thickness": 1},
                 "encoding": {"x": {"field": "c", "type": "nominal", "title": null}, "xOffset": {"field": "g", "type": "nominal"}, "y": {"field": "hi", "type": "quantitative"}}},
                {"data": {"name": "kD"}, "mark": {"type": "line", "color": "#222", "strokeWidth": 1.5, "strokeCap": "butt"},
                 "encoding": {"x": {"field": "c", "type": "nominal", "title": null}, "xOffset": {"field": "g", "type": "nominal"}, "y": {"field": "y", "type": "quantitative"}, "detail": [{"field": "k"}, {"field": "n"}]}},
                {"data": {"name": "kD"}, "mark": {"type": "rule", "color": "#222", "strokeWidth": 1.5, "yOffset": -4, "y2Offset": 4},
                 "encoding": {"x": {"field": "c", "type": "nominal", "title": null}, "xOffset": {"field": "g", "type": "nominal"}, "y": {"field": "y", "type": "quantitative"}, "y2": {"field": "y"}}},
                {"data": {"name": "kD"}, "transform": [{"filter": "datum.e == 1 && datum.k == 'S'"}], "mark": {"type": "text", "text": "a", "fontSize": 10, "baseline": "bottom", "dy": -3, "color": "#222"},
                 "encoding": {"x": {"field": "c", "type": "nominal", "title": null, "bandPosition": 1}, "y": {"field": "y", "type": "quantitative"}}},
                {"data": {"name": "kD"}, "transform": [{"filter": "datum.e == 1 && datum.k == 'C'"}], "mark": {"type": "text", "text": "a", "fontSize": 10, "baseline": "bottom", "dy": -3, "color": "#222"},
                 "encoding": {"x": {"field": "c", "type": "nominal", "title": null, "bandPosition": 1.5}, "y": {"field": "y", "type": "quantitative"}}},
                {"data": {"name": "kD"}, "transform": [{"filter": "datum.e == 1 && datum.k == 'X'"}], "mark": {"type": "text", "text": "a", "fontSize": 10, "baseline": "bottom", "dy": -3, "color": "#222"},
                 "encoding": {"x": {"field": "c", "type": "nominal", "title": null, "bandPosition": 0.5}, "y": {"field": "y", "type": "quantitative"}}}
              ]
            }
          ]
        },
        {
          "resolve": {"scale": {"fill": "independent"}, "legend": {"fill": "independent"}},
          "spacing": -4,
          "vconcat": [
            {
              "title": {"text": "E", "offset": -12, "dx": -18},
              "width": 382, "height": 131,
              "layer": [
                {"data": {"name": "bE"}, "mark": {"type": "bar", "stroke": "#3a3a3a", "strokeWidth": 1},
                 "encoding": {
                   "x": {"field": "c", "type": "nominal", "title": null, "scale": {"domain": ["LACA before|treatment", "LACA after|treatment", "RACA before|treatment", "RACA after|treatment", "LMCA before|treatment", "LMCA after|treatment", "RMCA before|treatment", "RMCA after|treatment", "LPCA before|treatment", "LPCA after|treatment", "RPCA before|treatment", "RPCA after|treatment"], "paddingInner": 0.33333, "paddingOuter": 0.19},
                         "axis": {"labelExpr": "split(datum.label,'|')", "labelAngle": -62, "labelAlign": "right", "labelBaseline": "top", "labelPadding": 1, "tickSize": 8, "labelFontSize": 10, "labelLineHeight": 12, "labelOverlap": false, "labelLimit": 0, "labelBound": false}},
                   "xOffset": {"field": "g", "type": "nominal", "scale": {"domain": ["Study group", "Control group"]}},
                   "y": {"field": "v", "type": "quantitative", "scale": {"domain": [0, 2], "nice": false}, "axis": {"title": null, "values": [0, 0.5, 1, 1.5, 2], "format": ".1f", "labelOverlap": false, "tickCount": 10}},
                   "fill": {"field": "g", "type": "nominal", "scale": {"domain": ["Study group", "Control group"], "range": ["#d3d3d3", "#ffffff"]}, "legend": {"title": null}}
                 }},
                {"data": {"name": "bE"}, "mark": {"type": "rule", "color": "#555", "strokeWidth": 1},
                 "encoding": {"x": {"field": "c", "type": "nominal", "title": null}, "xOffset": {"field": "g", "type": "nominal"}, "y": {"field": "lo", "type": "quantitative"}, "y2": {"field": "hi"}}},
                {"data": {"name": "bE"}, "mark": {"type": "tick", "color": "#555", "size": 6, "thickness": 1},
                 "encoding": {"x": {"field": "c", "type": "nominal", "title": null}, "xOffset": {"field": "g", "type": "nominal"}, "y": {"field": "lo", "type": "quantitative"}}},
                {"data": {"name": "bE"}, "mark": {"type": "tick", "color": "#555", "size": 6, "thickness": 1},
                 "encoding": {"x": {"field": "c", "type": "nominal", "title": null}, "xOffset": {"field": "g", "type": "nominal"}, "y": {"field": "hi", "type": "quantitative"}}},
                {"data": {"name": "kE"}, "mark": {"type": "line", "color": "#222", "strokeWidth": 1.5, "strokeCap": "butt"},
                 "encoding": {"x": {"field": "c", "type": "nominal", "title": null}, "xOffset": {"field": "g", "type": "nominal"}, "y": {"field": "y", "type": "quantitative"}, "detail": [{"field": "k"}, {"field": "n"}]}},
                {"data": {"name": "kE"}, "mark": {"type": "rule", "color": "#222", "strokeWidth": 1.5, "yOffset": -4, "y2Offset": 4},
                 "encoding": {"x": {"field": "c", "type": "nominal", "title": null}, "xOffset": {"field": "g", "type": "nominal"}, "y": {"field": "y", "type": "quantitative"}, "y2": {"field": "y"}}},
                {"data": {"name": "kE"}, "transform": [{"filter": "datum.e == 1 && datum.k == 'S'"}], "mark": {"type": "text", "text": "a", "fontSize": 10, "baseline": "bottom", "dy": -3, "color": "#222"},
                 "encoding": {"x": {"field": "c", "type": "nominal", "title": null, "bandPosition": 1}, "y": {"field": "y", "type": "quantitative"}}},
                {"data": {"name": "kE"}, "transform": [{"filter": "datum.e == 1 && datum.k == 'C'"}], "mark": {"type": "text", "text": "a", "fontSize": 10, "baseline": "bottom", "dy": -3, "color": "#222"},
                 "encoding": {"x": {"field": "c", "type": "nominal", "title": null, "bandPosition": 1.5}, "y": {"field": "y", "type": "quantitative"}}},
                {"data": {"name": "kE"}, "transform": [{"filter": "datum.e == 1 && datum.k == 'X'"}], "mark": {"type": "text", "text": "a", "fontSize": 10, "baseline": "bottom", "dy": -3, "color": "#222"},
                 "encoding": {"x": {"field": "c", "type": "nominal", "title": null, "bandPosition": 0.5}, "y": {"field": "y", "type": "quantitative"}}}
              ]
            },
            {
              "title": {"text": "F", "offset": -13, "dx": -18},
              "width": 384, "height": 118,
              "layer": [
                {"data": {"name": "bF"}, "mark": {"type": "bar", "stroke": "#3a3a3a", "strokeWidth": 1},
                 "encoding": {
                   "x": {"field": "c", "type": "nominal", "title": null, "scale": {"domain": ["LACA before|treatment", "LACA after|treatment", "RACA before|treatment", "RACA after|treatment", "LMCA before|treatment", "LMCA after|treatment", "RMCA before|treatment", "RMCA after|treatment", "LPCA before|treatment", "LPCA after|treatment", "RPCA before|treatment", "RPCA after|treatment"], "paddingInner": 0.33333, "paddingOuter": 0.2},
                         "axis": {"labelExpr": "split(datum.label,'|')", "labelAngle": -62, "labelAlign": "right", "labelBaseline": "top", "labelPadding": 1, "tickSize": 8, "labelFontSize": 10, "labelLineHeight": 12, "labelOverlap": false, "labelLimit": 0, "labelBound": false}},
                   "xOffset": {"field": "g", "type": "nominal", "scale": {"domain": ["Study group", "Control group"]}},
                   "y": {"field": "v", "type": "quantitative", "scale": {"domain": [0, 1.5], "nice": false}, "axis": {"title": null, "values": [0, 0.5, 1, 1.5], "format": ".1f", "labelOverlap": false, "tickCount": 10}},
                   "fill": {"field": "g", "type": "nominal", "scale": {"domain": ["Study group", "Control group"], "range": ["#d3d3d3", "#ffffff"]}, "legend": {"title": null}}
                 }},
                {"data": {"name": "bF"}, "mark": {"type": "rule", "color": "#555", "strokeWidth": 1},
                 "encoding": {"x": {"field": "c", "type": "nominal", "title": null}, "xOffset": {"field": "g", "type": "nominal"}, "y": {"field": "lo", "type": "quantitative"}, "y2": {"field": "hi"}}},
                {"data": {"name": "bF"}, "mark": {"type": "tick", "color": "#555", "size": 6, "thickness": 1},
                 "encoding": {"x": {"field": "c", "type": "nominal", "title": null}, "xOffset": {"field": "g", "type": "nominal"}, "y": {"field": "lo", "type": "quantitative"}}},
                {"data": {"name": "bF"}, "mark": {"type": "tick", "color": "#555", "size": 6, "thickness": 1},
                 "encoding": {"x": {"field": "c", "type": "nominal", "title": null}, "xOffset": {"field": "g", "type": "nominal"}, "y": {"field": "hi", "type": "quantitative"}}},
                {"data": {"name": "kF"}, "mark": {"type": "line", "color": "#222", "strokeWidth": 1.5, "strokeCap": "butt"},
                 "encoding": {"x": {"field": "c", "type": "nominal", "title": null}, "xOffset": {"field": "g", "type": "nominal"}, "y": {"field": "y", "type": "quantitative"}, "detail": [{"field": "k"}, {"field": "n"}]}},
                {"data": {"name": "kF"}, "mark": {"type": "rule", "color": "#222", "strokeWidth": 1.5, "yOffset": -4, "y2Offset": 4},
                 "encoding": {"x": {"field": "c", "type": "nominal", "title": null}, "xOffset": {"field": "g", "type": "nominal"}, "y": {"field": "y", "type": "quantitative"}, "y2": {"field": "y"}}},
                {"data": {"name": "kF"}, "transform": [{"filter": "datum.e == 1 && datum.k == 'S'"}], "mark": {"type": "text", "text": "a", "fontSize": 10, "baseline": "bottom", "dy": -3, "color": "#222"},
                 "encoding": {"x": {"field": "c", "type": "nominal", "title": null, "bandPosition": 1}, "y": {"field": "y", "type": "quantitative"}}},
                {"data": {"name": "kF"}, "transform": [{"filter": "datum.e == 1 && datum.k == 'C'"}], "mark": {"type": "text", "text": "a", "fontSize": 10, "baseline": "bottom", "dy": -3, "color": "#222"},
                 "encoding": {"x": {"field": "c", "type": "nominal", "title": null, "bandPosition": 1.5}, "y": {"field": "y", "type": "quantitative"}}},
                {"data": {"name": "kF"}, "transform": [{"filter": "datum.e == 1 && datum.k == 'X'"}], "mark": {"type": "text", "text": "a", "fontSize": 10, "baseline": "bottom", "dy": -3, "color": "#222"},
                 "encoding": {"x": {"field": "c", "type": "nominal", "title": null, "bandPosition": 0.5}, "y": {"field": "y", "type": "quantitative"}}}
              ]
            }
          ]
        }
      ]
    }
  ]
}
